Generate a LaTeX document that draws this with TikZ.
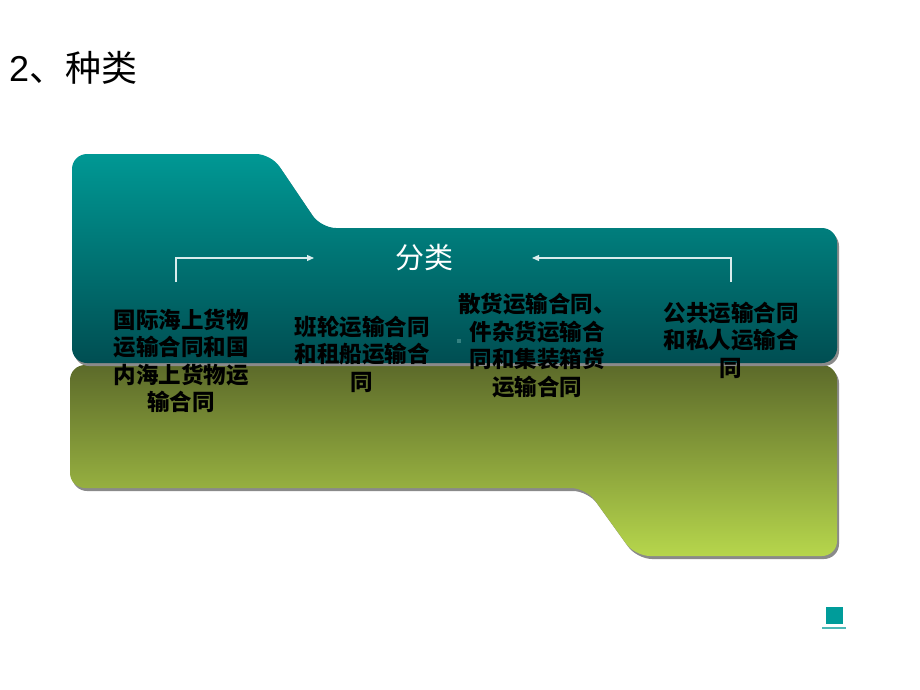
\documentclass[tikz,border=0pt]{standalone}
\usepackage{fontspec}
\setmainfont{Liberation Sans}
\newfontfamily\cjk{Noto Sans CJK SC}
\usetikzlibrary{arrows.meta}
\definecolor{tealtop}{HTML}{009894}
\definecolor{tealbot}{HTML}{004E52}
\definecolor{greentop}{HTML}{5C6A2A}
\definecolor{greenbot}{HTML}{B6D64C}
\definecolor{shadowc}{HTML}{8A8A8A}
\definecolor{iconc}{HTML}{009C9A}
\definecolor{iconl}{HTML}{4DB8B6}
\tikzset{
  panel/.style={rounded corners=15pt},
  shadowpanel/.style={panel, fill=shadowc},
  label/.style={font=\cjk\bfseries\fontsize{22.5}{27.5}\selectfont, align=center, text=black, inner sep=0pt},
  conn/.style={draw=white!85!teal, line width=1.2pt, -{Triangle[length=7pt,width=6pt]}}
}
\begin{document}
\begin{tikzpicture}[x=1pt,y=-1pt]
\useasboundingbox (0,0) rectangle (920,690);
% title
\node[anchor=west, inner sep=0pt] (title) at (9,68) {\fontsize{36}{40}\selectfont 2\cjk 、种类};
% green panel shadow and fill
\path[shadowpanel] (72,368) -- (839,368) -- (839,559) -- (637,559) -- (588,491) -- (72,491) -- cycle;
\shade[panel, top color=greentop, bottom color=greenbot] (70,365) -- (837,365) -- (837,556) -- (635,556) -- (586,488) -- (70,488) -- cycle;
% teal panel shadow and fill
\path[shadowpanel] (74,157) -- (273,157) -- (323,231) -- (839,231) -- (839,366) -- (74,366) -- cycle;
\shade[panel, top color=tealtop, bottom color=tealbot] (72,154) -- (271,154) -- (321,228) -- (837,228) -- (837,363) -- (72,363) -- cycle;
% center label
\node[font=\cjk\fontsize{29}{30}\selectfont, text=white, inner sep=0pt] (cls) at (424,258) {分类};
% connectors
\coordinate (a1) at (176,282);
\coordinate (a2) at (314,258);
\coordinate (b1) at (731,282);
\coordinate (b2) at (532,258);
\draw[conn] (a1) |- (a2);
\draw[conn] (b1) |- (b2);
% labels
\node[label] (l1) at (181,361) {国际海上货物\\运输合同和国\\内海上货物运\\输合同};
\node[label] (l2) at (362,354) {班轮运输合同\\和租船运输合\\同};
\node[label] (l3) at (537,345.5) {散货运输合同、\\件杂货运输合\\同和集装箱货\\运输合同};
\node[label] (l4) at (731,340) {公共运输合同\\和私人运输合\\同};
% small dot
\fill[fill=teal!60!gray] (457,339) rectangle (461,343);
% icon
\fill[iconc] (826,607) rectangle (843,624);
\fill[iconl] (822,626.5) rectangle (846,629);
\end{tikzpicture}
\end{document}
